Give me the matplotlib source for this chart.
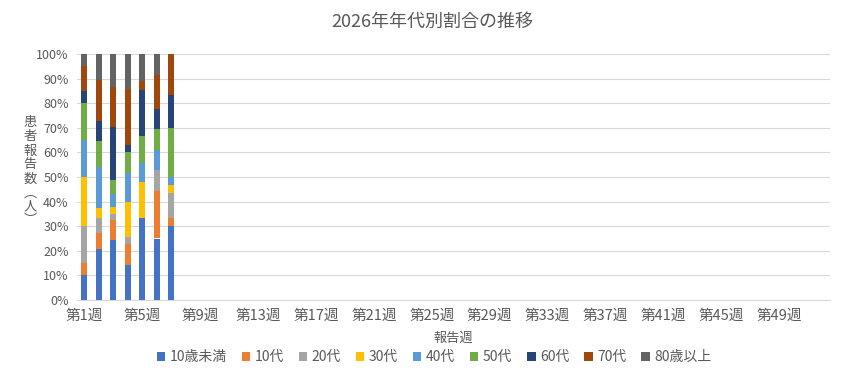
import numpy as np
import matplotlib
matplotlib.use("Agg")
import matplotlib.pyplot as plt
from matplotlib.ticker import PercentFormatter

plt.rcParams['font.family'] = ['Noto Sans CJK JP', 'DejaVu Sans']

#=================
# data
#=================
weeks = [f"第{i}週" for i in range(1, 53)]
groups = ["10歳未満", "10代", "20代", "30代", "40代", "50代", "60代", "70代", "80歳以上"]
colors = ["#4472C4", "#ED7D31", "#A5A5A5", "#FFC000", "#5B9BD5",
          "#70AD47", "#264478", "#9E480E", "#636363"]

# reported counts, weeks 1-7 (one list per age group)
under10 = [2, 10, 9, 5, 9, 9, 9]
age10 = [1, 3, 3, 3, 0, 7, 1]
age20 = [3, 3, 1, 1, 0, 3, 3]
age30 = [4, 2, 1, 5, 4, 0, 1]
age40 = [3, 8, 2, 4, 2, 3, 1]
age50 = [3, 5, 2, 3, 3, 3, 6]
age60 = [1, 4, 8, 1, 5, 3, 4]
age70 = [2, 8, 6, 8, 1, 5, 5]
over80 = [1, 5, 5, 5, 3, 3, 0]

counts = np.array([under10, age10, age20, age30, age40,
                   age50, age60, age70, over80], dtype=float)
shares = counts / counts.sum(axis=0) * 100

#=================
# plot
#=================
fig = plt.figure(figsize=(8.62, 3.79), dpi=100)
ax = fig.add_axes([77 / 862, 1 - 300 / 379, 753 / 862, 246 / 379])

x = np.arange(1, shares.shape[1] + 1)
bottom = np.zeros(shares.shape[1])
for name, vals, c in zip(groups, shares, colors):
    ax.bar(x, vals, bottom=bottom, width=0.42, color=c, label=name, zorder=3)
    bottom += vals

ax.set_xlim(0.5, len(weeks) + 0.5)
ax.set_ylim(0, 100)
ax.set_yticks(np.arange(0, 101, 10))
ax.yaxis.set_major_formatter(PercentFormatter(decimals=0))
ax.set_xticks(np.arange(1, len(weeks) + 1, 4))
ax.set_xticklabels(weeks[::4])

ax.grid(axis="y", color="#D9D9D9", linewidth=0.8, zorder=0)
for s in ["top", "right", "left"]:
    ax.spines[s].set_visible(False)
ax.spines["bottom"].set_color("#D9D9D9")
ax.tick_params(axis="both", length=0, colors="#595959")
ax.tick_params(axis="y", labelsize=9, pad=6)
ax.tick_params(axis="x", labelsize=10.5, pad=6)

fig.text(432 / 862, 1 - 22 / 379, "2026年年代別割合の推移",
         ha="center", va="center", fontsize=13, color="#595959")
fig.text(453 / 862, 1 - 338 / 379, "報告週",
         ha="center", va="center", fontsize=9.5, color="#595959")
fig.text(30 / 862, 1 - 172 / 379, "\n".join("患者報告数︵人︶"),
         ha="center", va="center", fontsize=9.5, color="#595959",
         linespacing=1.1)

ax.legend(loc="center", bbox_to_anchor=(434 / 862, 1 - 357 / 379),
          bbox_transform=fig.transFigure, ncol=9, frameon=False,
          fontsize=10, handlelength=0.6, handleheight=0.6,
          handletextpad=0.3, columnspacing=1.1, labelcolor="#595959")

plt.savefig("out.png", dpi=100)
plt.close()
